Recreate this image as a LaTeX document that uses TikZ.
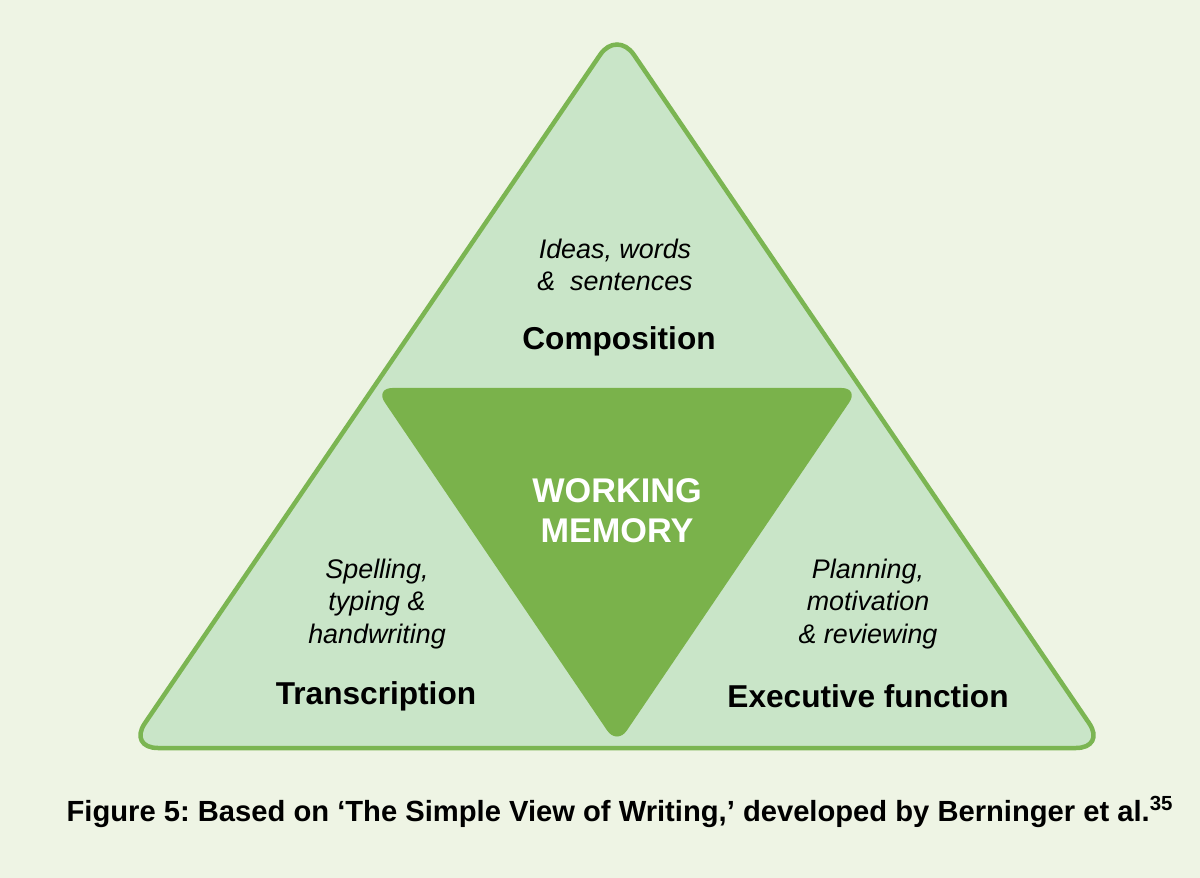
\documentclass[tikz,border=0pt]{standalone}
\usepackage{fontspec}
\setmainfont{Liberation Sans}
\usepackage{xcolor}
\usepackage{tikz}
\usetikzlibrary{positioning}
\definecolor{bgcream}{HTML}{EEF4E4}
\definecolor{palegreen}{HTML}{C9E5C8}
\definecolor{edgegreen}{HTML}{7BB552}
\definecolor{memgreen}{HTML}{7AB24B}
\frenchspacing

\begin{document}
\begin{tikzpicture}[x=0.02cm,y=-0.02cm,
  detail/.style={align=center, inner sep=0pt, font=\fontsize{15.3}{18.4}\selectfont\itshape},
  heading/.style={inner sep=0pt, font=\fontsize{18}{22}\selectfont\bfseries},
  memtext/.style={align=center, inner sep=0pt, text=white, font=\fontsize{19.5}{22.8}\selectfont\bfseries},
  captext/.style={inner sep=0pt, font=\fontsize{16.6}{19}\selectfont\bfseries}]
\fill[bgcream] (0,0) rectangle (1200,878);
\coordinate (top) at (617,30);
\coordinate (botleft) at (128,748);
\coordinate (botright) at (1106,748);
\filldraw[fill=palegreen, draw=edgegreen, line width=0.09cm, rounded corners=0.6cm] (top) -- (botright) -- (botleft) -- cycle;
\coordinate (memleft) at (375,388);
\coordinate (memright) at (859,388);
\coordinate (membot) at (617,745);
\fill[memgreen, rounded corners=0.35cm] (memleft) -- (memright) -- (membot) -- cycle;
\node[detail] (compdetail) at (615,265) {Ideas, words\\\& \ sentences};
\node[heading] (comp) at (619,341) {Composition};
\node[memtext] (memory) at (617,511) {WORKING\\MEMORY};
\node[detail] (transdetail) at (377,604) {Spelling,\\typing \&\\handwriting};
\node[heading] (trans) at (376,696) {Transcription};
\node[detail] (execdetail) at (868,604) {Planning,\\motivation\\\& reviewing};
\node[heading] (exec) at (868,696) {Executive function};
\node[captext] (caption) at (620,812) {Figure 5: Based on ‘The Simple View of Writing,’ developed by Berninger et al.\textsuperscript{35}};
\end{tikzpicture}
\end{document}
